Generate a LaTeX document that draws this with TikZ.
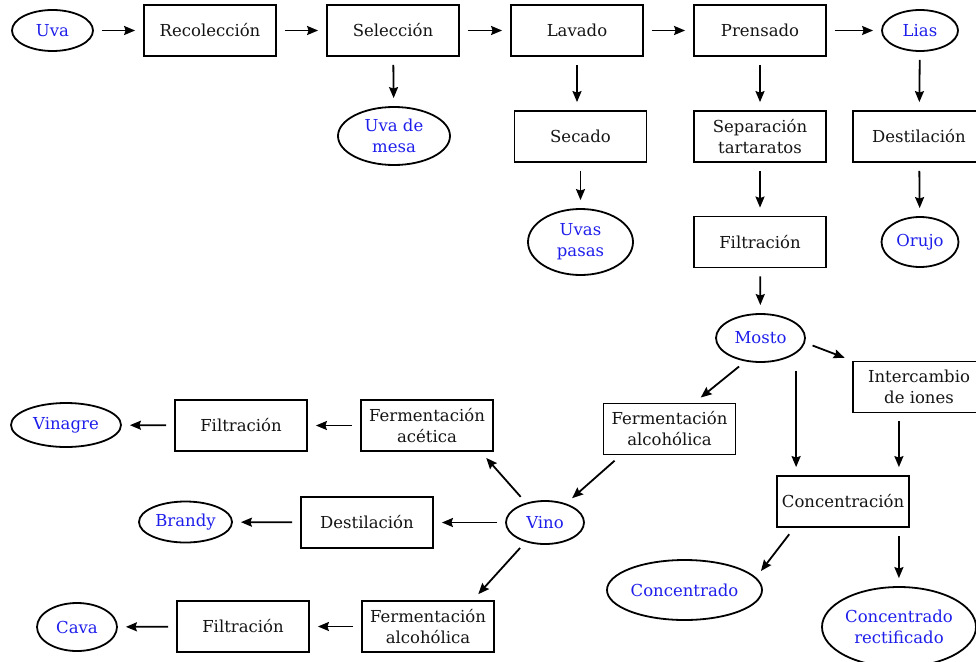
\documentclass[tikz,border=0pt]{standalone}
\usepackage{fontspec}
\setmainfont{DejaVu Serif}
\usepackage{tikz}
\usetikzlibrary{arrows.meta,shapes.geometric}
\definecolor{prodblue}{RGB}{30,30,235}
\definecolor{inkgray}{RGB}{20,20,20}

\begin{document}
\begin{tikzpicture}[x=1pt, y=1pt, font=\fontsize{16.5}{21}\selectfont,
  proc/.style={rectangle, draw=black, line width=1.8pt, minimum width=132pt, minimum height=51pt, inner sep=1pt, align=center, text=inkgray},
  prod/.style={ellipse, draw=black, line width=1.8pt, inner sep=0pt, align=center, text=prodblue},
  flow/.style={-{Stealth[length=11pt,width=9pt,inset=1.5pt]}, line width=1.8pt, shorten <=8pt, shorten >=8pt}]
  \useasboundingbox (0,0) rectangle (976,-661);
  \clip (0,0) rectangle (976,-661);

  % Top row
  \node[prod, minimum width=81pt, minimum height=41pt] (uva) at (52.5,-30.5) {Uva};
  \node[proc] (recol) at (210,-30.5) {Recolección};
  \node[proc] (selec) at (393,-30.5) {Selección};
  \node[proc] (lavado) at (577,-30.5) {Lavado};
  \node[proc] (prens) at (760,-30.5) {Prensado};
  \node[prod, minimum width=76pt, minimum height=41pt] (lias) at (920,-30.5) {Lias};
  \draw[flow] (uva) -- (recol);
  \draw[flow] (recol) -- (selec);
  \draw[flow] (selec) -- (lavado);
  \draw[flow] (lavado) -- (prens);
  \draw[flow] (prens) -- (lias);

  % By-products
  \node[prod, minimum width=112pt, minimum height=58pt] (mesa) at (394,-136) {Uva de\\mesa};
  \node[proc] (secado) at (580.5,-136.5) {Secado};
  \node[proc] (separ) at (760,-136.5) {Separación\\tartaratos};
  \node[proc] (destA) at (919,-136.5) {Destilación};
  \node[prod, minimum width=105pt, minimum height=66pt] (pasas) at (580.5,-242) {Uvas\\pasas};
  \node[proc] (filtA) at (760,-242) {Filtración};
  \node[prod, minimum width=77pt, minimum height=50pt] (orujo) at (920,-242) {Orujo};
  \draw[flow] (selec) -- (mesa);
  \draw[flow] (lavado.south) -- (lavado.south |- secado.north);
  \draw[flow] (secado) -- (pasas);
  \draw[flow] (prens) -- (separ);
  \draw[flow] (separ) -- (filtA);
  \draw[flow] (lias) -- (destA);
  \draw[flow] (destA) -- (orujo);

  % Mosto
  \node[prod, minimum width=89pt, minimum height=48pt] (mosto) at (760.5,-338) {Mosto};
  \node[proc] (inter) at (919,-387) {Intercambio\\de iones};
  \node[proc] (fermA) at (669.5,-429) {Fermentación\\alcohólica};
  \node[proc] (conc) at (843,-501.5) {Concentración};
  \node[prod, minimum width=155pt, minimum height=60pt] (concd) at (684.5,-590) {Concentrado};
  \node[prod, minimum width=154pt, minimum height=80pt] (rect) at (899,-627) {Concentrado\\rectificado};
  \coordinate (cin) at ([xshift=20pt]conc.north west);
  \coordinate (cion) at ([xshift=-11pt]conc.north east);
  \coordinate (cout) at ([xshift=-11pt]conc.south east);
  \draw[flow] (filtA) -- (mosto);
  \draw[flow] (mosto.237) -- ([xshift=25pt]fermA.north);
  \draw[flow] (mosto.-6) -- (inter.north west);
  \draw[flow] (cin |- mosto.south) -- (cin);
  \draw[flow] (cion |- inter.south) -- (cion);
  \draw[flow] ([xshift=18pt]conc.south west) -- (concd.10);
  \draw[flow] (cout) -- (cout |- rect.north);

  % Vino
  \node[prod, minimum width=78pt, minimum height=43pt] (vino) at (545,-522.5) {Vino};
  \node[proc] (acet) at (427,-425.5) {Fermentación\\acética};
  \node[proc] (filtB) at (241,-425.5) {Filtración};
  \node[prod, minimum width=110pt, minimum height=44pt] (vinagre) at (66,-425) {Vinagre};
  \node[proc] (destB) at (367,-522.5) {Destilación};
  \node[prod, minimum width=93pt, minimum height=41pt] (brandy) at (185.5,-522) {Brandy};
  \node[proc] (fermB) at (428,-626.5) {Fermentación\\alcohólica};
  \node[proc] (filtC) at (243,-626.5) {Filtración};
  \node[prod, minimum width=80pt, minimum height=48pt] (cava) at (77,-627) {Cava};
  \draw[flow] ([xshift=18pt]fermA.south west) -- (vino.42);
  \draw[flow] (vino.134) -- ([xshift=-13pt]acet.south east);
  \draw[flow] (vino) -- (destB);
  \draw[flow] (vino.225) -- ([xshift=-22pt]fermB.north east);
  \draw[flow] (acet) -- (filtB);
  \draw[flow] (filtB) -- (vinagre);
  \draw[flow] (destB) -- (brandy);
  \draw[flow] (fermB) -- (filtC);
  \draw[flow] (filtC) -- (cava);
\end{tikzpicture}
\end{document}
